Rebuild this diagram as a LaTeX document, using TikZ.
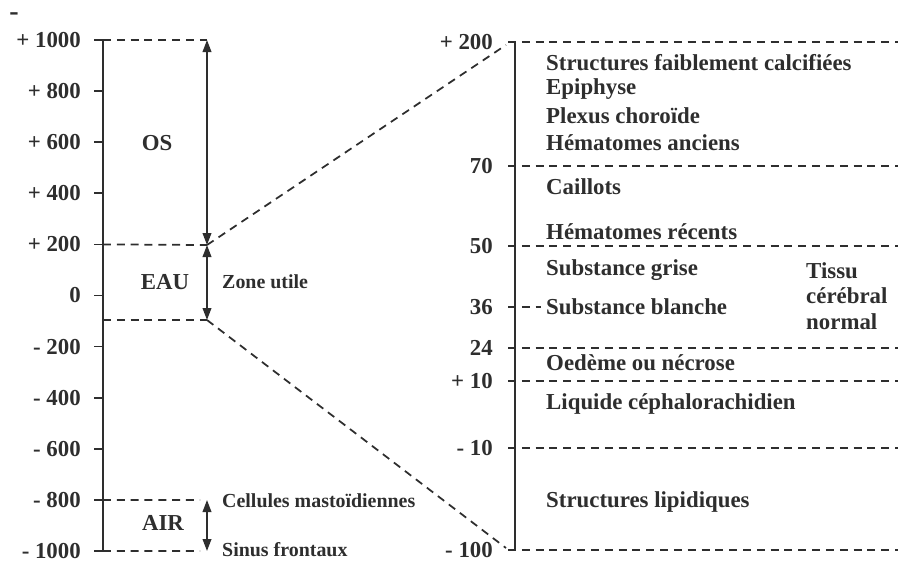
\documentclass[tikz,border=0pt]{standalone}
\usepackage{fontspec}
\setmainfont{Liberation Serif}
\usetikzlibrary{arrows.meta,positioning}
\definecolor{ink}{HTML}{2E2E2E}

\begin{document}
\begin{tikzpicture}[x=0.3mm,y=-0.3mm,
    every node/.style={font=\bfseries\fontsize{19.5}{22}\selectfont,text=ink,inner sep=0pt},
    note/.style={anchor=west,font=\bfseries\fontsize{17}{20}\selectfont},
    axe/.style={draw=ink,line width=1.5pt},
    sep/.style={draw=ink,line width=1.5pt,dash pattern=on 6.8pt off 5pt},
    dbl/.style={draw=ink,line width=1.5pt,{Triangle[length=3.6mm,width=2.6mm]}-{Triangle[length=3.6mm,width=2.6mm]}}]
    \useasboundingbox (0,0) rectangle (898,562);
    \node[font=\bfseries\fontsize{24}{26}\selectfont] (coin) at (14,17) {-};

    % echelle complete
    \coordinate (Ltop) at (103,40);
    \coordinate (Lbot) at (103,551);
    \draw[axe] (Ltop) -- (Lbot);
    \foreach \v [count=\i from 0] in {+ 1000,+ 800,+ 600,+ 400,+ 200,0,- 200,- 400,- 600,- 800,- 1000} {
        \coordinate (t\i) at (103,40+\i*51.1);
        \node[anchor=east] (l\i) at (81,40+\i*51.1) {\v};
        \draw[axe] (t\i) -- ++(-9,0);
    }
    \coordinate (t90) at (103,320);
    \coordinate (aT) at (207,40);
    \coordinate (aM) at (207,245);
    \coordinate (aB) at (207,320);
    \coordinate (aA) at (207,500);
    \coordinate (aS) at (207,551);
    \draw[sep] (t0) -- (aT);
    \draw[sep] (t4) -- (aM);
    \draw[sep] (t90) -- (aB);
    \draw[sep] (t9) -- (200,500);
    \draw[sep] (t10) -- (200,551);
    \draw[dbl] (aM) -- (aT);
    \draw[dbl] (aM) -- (aB);
    \draw[dbl] (aA) -- (aS);
    \node (os) at (157,143) {OS};
    \node (eau) at (165,282) {EAU};
    \node (air) at (163,523) {AIR};
    \node[note] (zone) at (222,282) {Zone utile};
    \node[note] (cell) at (222,501) {Cellules mastoïdiennes};
    \node[note] (sinus) at (222,550) {Sinus frontaux};

    % zoom sur la zone utile
    \coordinate (Rtop) at (515,42);
    \coordinate (Rbot) at (515,550);
    \coordinate (zh) at (506,45);
    \coordinate (zb) at (506,548);
    \draw[sep] (aM) -- (zh);
    \draw[sep] (aB) -- (zb);
    \draw[axe] (Rtop) -- (Rbot);
    \foreach \y/\v [count=\i] in {42/+ 200,166/70,246/50,348/24,381/+ 10,448/- 10,550/- 100} {
        \node[anchor=east] (r\i) at (493,\y) {\v};
        \coordinate (d\i) at (508,\y);
        \draw[sep] (d\i) -- (898,\y);
    }
    \node[anchor=east] (r36) at (493,307) {36};
    \coordinate (d36) at (508,307);
    \draw[sep] (d36) -- (541,307);

    \node[anchor=west] (calc) at (546,63) {Structures faiblement calcifiées};
    \node[anchor=west] (epi) at (546,89) {Epiphyse};
    \node[anchor=west] (plex) at (546,116) {Plexus choroïde};
    \node[anchor=west] (hanc) at (546,143) {Hématomes anciens};
    \node[anchor=west] (cail) at (546,187) {Caillots};
    \node[anchor=west] (hrec) at (546,232) {Hématomes récents};
    \node[anchor=west] (grise) at (546,270) {Substance grise};
    \node[anchor=west] (blanche) at (546,307) {Substance blanche};
    \node[anchor=west] (oed) at (546,363) {Oedème ou nécrose};
    \node[anchor=west] (lcr) at (546,404) {Liquide céphalorachidien};
    \node[anchor=west] (lip) at (546,502) {Structures lipidiques};
    \node[anchor=west,align=left] (tissu) at (806,296) {Tissu\\cérébral\\normal};
\end{tikzpicture}
\end{document}
